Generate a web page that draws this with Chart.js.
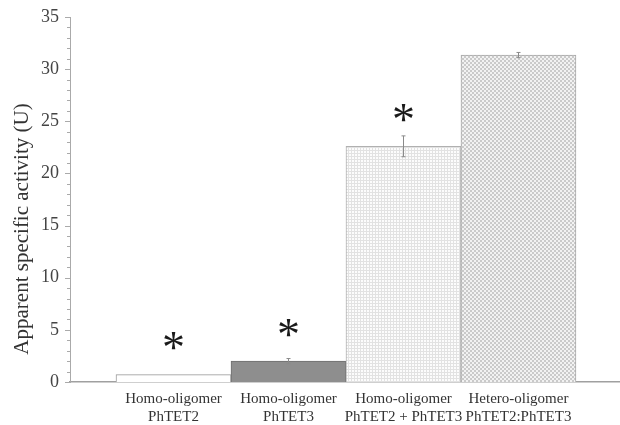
<!DOCTYPE html>
<html><head><meta charset="utf-8">
<script src="https://cdn.jsdelivr.net/npm/chart.js@4"></script>
<style>html,body{margin:0;padding:0;background:#fff}#w{width:620px;height:425px}</style>
</head><body><div id="w"><canvas id="c"></canvas></div>
<script>
const categories = [["Homo-oligomer","PhTET2"],["Homo-oligomer","PhTET3"],["Homo-oligomer","PhTET2 + PhTET3"],["Hetero-oligomer","PhTET2:PhTET3"]];
const positions = [1,2,3,4];
const activity = [0.7, 2.0, 22.6, 31.35];
const errors = [0, 0.25, 1.0, 0.25];
const significance = ["*","*","*",""];
const yTicks = [0,5,10,15,20,25,30,35];
const yTitle = 'Apparent specific activity (U)';
const starOffset = 3.3;

function makePattern(kind){
  const c = document.createElement('canvas');
  const ctx = c.getContext('2d');
  if(kind==='grid'){
    c.width=3;c.height=3;
    ctx.fillStyle='#fcfcfc';ctx.fillRect(0,0,3,3);
    ctx.fillStyle='#e2e2e2';ctx.fillRect(0,0,3,1);ctx.fillRect(0,0,1,3);
  } else {
    c.width=4;c.height=4;
    ctx.fillStyle='#f2f2f2';ctx.fillRect(0,0,4,4);
    ctx.fillStyle='#cacaca';ctx.fillRect(0,0,2,2);ctx.fillRect(2,2,2,2);
  }
  return ctx.createPattern(c,'repeat');
}
const fills = ['#ffffff','#8e8e8e',makePattern('grid'),makePattern('check')];
const borders = ['#9a9a9a','#6e6e6e','#b0b0b0','#a8a8a8'];

const extras = {
  id:'extras',
  afterDatasetsDraw(chart){
    const ctx=chart.ctx, x=chart.scales.x, y=chart.scales.y;
    ctx.save();
    ctx.strokeStyle='#aaaaaa';ctx.lineWidth=1;
    for(let v=0; v<=35; v++){
      const py=Math.round(y.getPixelForValue(v))+0.5;
      const len = v%5===0 ? 5 : 3;
      ctx.beginPath();ctx.moveTo(x.left-len,py);ctx.lineTo(x.left,py);ctx.stroke();
    }
    ctx.strokeStyle='#8a8a8a';
    positions.forEach((p,i)=>{
      if(!errors[i]) return;
      const px=Math.round(x.getPixelForValue(p))+0.5;
      const t=y.getPixelForValue(activity[i]+errors[i]);
      const b=y.getPixelForValue(activity[i]-errors[i]);
      ctx.beginPath();
      ctx.moveTo(px,t);ctx.lineTo(px,b);
      ctx.moveTo(px-2,t);ctx.lineTo(px+2,t);
      ctx.moveTo(px-2,b);ctx.lineTo(px+2,b);
      ctx.stroke();
    });
    ctx.fillStyle='#1a1a1a';
    const fs=46;
    ctx.font=fs+'px "Liberation Serif"';
    ctx.textAlign='center';ctx.textBaseline='alphabetic';
    positions.forEach((p,i)=>{
      if(!significance[i]) return;
      const px=x.getPixelForValue(p);
      const cy=y.getPixelForValue(activity[i]+starOffset);
      ctx.fillText(significance[i],px,cy+0.5*fs);
    });
    ctx.translate(22,229);
    ctx.rotate(-Math.PI/2);
    ctx.fillStyle='#333';
    ctx.font='21px "Liberation Serif"';
    ctx.textAlign='center';ctx.textBaseline='middle';
    ctx.fillText(yTitle,0,0);
    ctx.restore();
  }
};

new Chart(document.getElementById('c'),{
  type:'bar',
  data:{datasets:[{
    data:positions.map((p,i)=>({x:p,y:activity[i]})),
    backgroundColor:fills,
    borderColor:borders,
    borderWidth:1,
    borderSkipped:'bottom',
    barPercentage:1,
    categoryPercentage:1
  }]},
  options:{
    responsive:true,maintainAspectRatio:false,animation:false,
    layout:{padding:{top:17,right:0,left:0,bottom:0}},
    plugins:{legend:{display:false},tooltip:{enabled:false}},
    scales:{
      x:{
        type:'linear',min:0.1,max:4.883,offset:false,
        afterBuildTicks(s){s.ticks=positions.map(v=>({value:v}));},
        afterFit(s){s.height=43;},
        grid:{display:false},
        border:{display:true,color:'#a0a0a0',width:1.5},
        ticks:{autoSkip:false,maxRotation:0,padding:0,color:'#333',
          font:{family:'"Liberation Serif"',size:15,lineHeight:1.2},
          callback:(v)=>{const i=positions.indexOf(v);return i>=0?categories[i]:'';}}
      },
      y:{
        min:0,max:35,
        afterBuildTicks(s){s.ticks=yTicks.map(v=>({value:v}));},
        afterFit(s){s.width=70;},
        grid:{display:false},
        border:{display:true,color:'#aaaaaa',width:1},
        ticks:{padding:3,color:'#444',font:{family:'"Liberation Serif"',size:18}},
        title:{display:false}
      }
    }
  },
  plugins:[extras]
});
</script></body></html>
